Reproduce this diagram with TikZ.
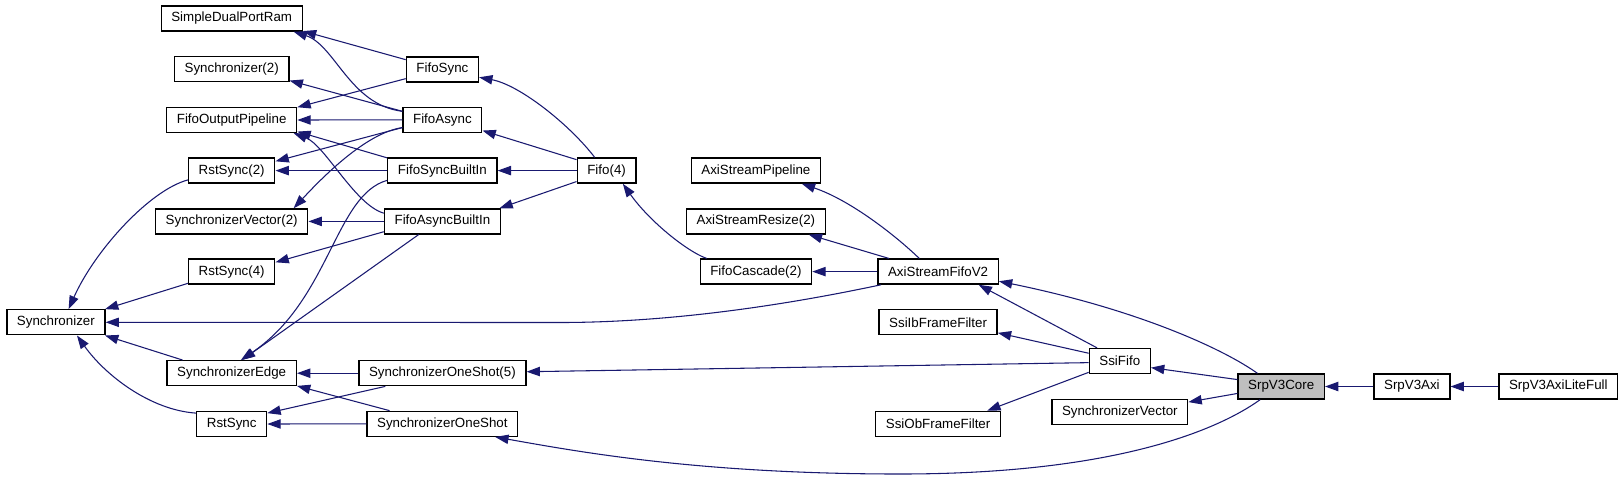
\documentclass[tikz,border=0pt]{standalone}
\usepackage{fontspec}
\setmainfont{Liberation Sans}
\usetikzlibrary{arrows.meta}
\definecolor{blunotte}{RGB}{25,25,112}
\definecolor{grigiocore}{RGB}{191,191,191}

\begin{document}
\begin{tikzpicture}[
			x=0.75pt, y=-0.75pt,
			modulo/.style={rectangle, draw=black, fill=white, line width=1pt,
				inner xsep=7.6pt, inner ysep=0pt, minimum height=18.75pt,
				font=\fontsize{10}{12}\selectfont},
			radice/.style={modulo, fill=grigiocore},
			uso/.style={draw=blunotte, line width=0.8pt,
				-{Triangle[length=10pt,width=7pt]}, line join=round},
			]
			\useasboundingbox (0,0) rectangle (1624,480);
			
			%% =========================================================
			%% moduli, colonna per colonna (coordinate in pixel)
			%% =========================================================
			\node[modulo] (sync)    at (55.9,322.3)  {Synchronizer};
			
			\node[modulo] (sdpr)    at (231.7,18.5)  {SimpleDualPortRam};
			\node[modulo] (sync2)   at (231.7,69.3)  {Synchronizer(2)};
			\node[modulo] (fop)     at (231.7,120)   {FifoOutputPipeline};
			\node[modulo] (rst2)    at (231.7,170.6) {RstSync(2)};
			\node[modulo] (sv2)     at (231.7,221.4) {SynchronizerVector(2)};
			\node[modulo] (rst4)    at (231.7,271.6) {RstSync(4)};
			\node[modulo] (sedge)   at (231.7,373.2) {SynchronizerEdge};
			\node[modulo] (rst)     at (231.7,424)   {RstSync};
			
			\node[modulo] (fsync)   at (442.4,69.5)  {FifoSync};
			\node[modulo] (fasync)  at (442.4,119.8) {FifoAsync};
			\node[modulo] (fsbi)    at (442.4,170.6) {FifoSyncBuiltIn};
			\node[modulo] (fabi)    at (442.4,221.4) {FifoAsyncBuiltIn};
			\node[modulo] (sos5)    at (442.4,373.2) {SynchronizerOneShot(5)};
			\node[modulo] (sos)     at (442.4,423.8) {SynchronizerOneShot};
			
			\node[modulo] (fifo4)   at (606.6,170.6) {Fifo(4)};
			
			\node[modulo] (asp)     at (755.9,170.6) {AxiStreamPipeline};
			\node[modulo] (asr2)    at (755.9,221.4) {AxiStreamResize(2)};
			\node[modulo] (fc2)     at (755.9,271.6) {FifoCascade(2)};
			
			\node[modulo] (asf)     at (938.1,271.6) {AxiStreamFifoV2};
			\node[modulo] (ibff)    at (938.1,322.3) {SsiIbFrameFilter};
			\node[modulo] (obff)    at (938.1,423.8) {SsiObFrameFilter};
			
			\node[modulo] (ssififo) at (1119.8,361)  {SsiFifo};
			\node[modulo] (svec)    at (1119.8,411.7) {SynchronizerVector};
			
			\node[radice] (core)    at (1281.2,386.5) {SrpV3Core};
			\node[modulo] (axi)     at (1411.9,386.5) {SrpV3Axi};
			\node[modulo] (axilf)   at (1558.3,386.5) {SrpV3AxiLiteFull};
			
			%% =========================================================
			%% dipendenze verso Synchronizer
			%% =========================================================
			\draw[uso] (rst2.192) .. controls (150,190) and (95,250) .. (sync.46);
			\draw[uso] (rst4.195) -- (sync.15);
			\draw[uso] (sedge.165) -- (sync.-15);
			\draw[uso] (rst.163) .. controls (150,410) and (105,375) .. (sync.-32);
			\draw[uso] (asf.193) .. controls (800,302) and (680,322.5) .. (560,322.5) -- (sync.east);
			
			%% =========================================================
			%% dipendenze verso la seconda colonna
			%% =========================================================
			\draw[uso] (fsync.165) -- (sdpr.-10);
			\draw[uso] (fasync.168) .. controls (350,105) and (335,45) .. (sdpr.-12);
			\draw[uso] (fasync.168) -- (sync2.-11);
			\draw[uso] (fsync.194) -- (fop.11);
			\draw[uso] (fasync.west) -- (fop.east);
			\draw[uso] (fsbi.167) -- (fop.-10);
			\draw[uso] (fabi.172) .. controls (355,205) and (325,145) .. (fop.-12);
			\draw[uso] (fasync.191) -- (rst2.12);
			\draw[uso] (fsbi.west) -- (rst2.east);
			\draw[uso] (fasync.191) .. controls (365,133) and (320,180) .. (sv2.12);
			\draw[uso] (fabi.west) -- (sv2.east);
			\draw[uso] (fabi.190) -- (rst4.12);
			\draw[uso] (fsbi.190) .. controls (335,195) and (330,300) .. (sedge.55);
			\draw[uso] (fabi.209) -- (sedge.52);
			\draw[uso] (sos5.west) -- (sedge.east);
			\draw[uso] (sos.166) -- (sedge.-11);
			\draw[uso] (sos5.193) -- (rst.17);
			\draw[uso] (sos.west) -- (rst.east);
			
			%% =========================================================
			%% Fifo(4) e FifoCascade(2)
			%% =========================================================
			\draw[uso] (fifo4.132) .. controls (570,125) and (520,85) .. (fsync.-12);
			\draw[uso] (fifo4.160) -- (fasync.-15);
			\draw[uso] (fifo4.west) -- (fsbi.east);
			\draw[uso] (fifo4.200) -- (fabi.13);
			\draw[uso] (fc2.165) .. controls (688,252) and (650,222) .. (fifo4.-39);
			
			%% =========================================================
			%% AxiStreamFifoV2, SsiFifo
			%% =========================================================
			\draw[uso] (asf.west) -- (fc2.east);
			\draw[uso] (asf.145) .. controls (895,235) and (850,200) .. (asp.-16);
			\draw[uso] (asf.165) -- (asr2.-14);
			\draw[uso] (ssififo.150) -- (asf.-18);
			\draw[uso] (ssififo.166) -- (ibff.-10);
			\draw[uso] (ssififo.183) -- (sos5.1);
			\draw[uso] (ssififo.200) -- (obff.15);
			
			%% =========================================================
			%% SrpV3Core e radici
			%% =========================================================
			\draw[uso] (core.171) -- (ssififo.-12);
			\draw[uso] (core.189) -- (svec.8);
			\draw[uso] (core.151) .. controls (1225,350) and (1140,310) .. (asf.-9);
			\draw[uso] (core.212) .. controls (1215,432) and (1110,474) .. (900,474)
				.. controls (700,474) and (580,452) .. (sos.-14);
			\draw[uso] (axi.west) -- (core.east);
			\draw[uso] (axilf.west) -- (axi.east);
			
	\end{tikzpicture}
\end{document}
